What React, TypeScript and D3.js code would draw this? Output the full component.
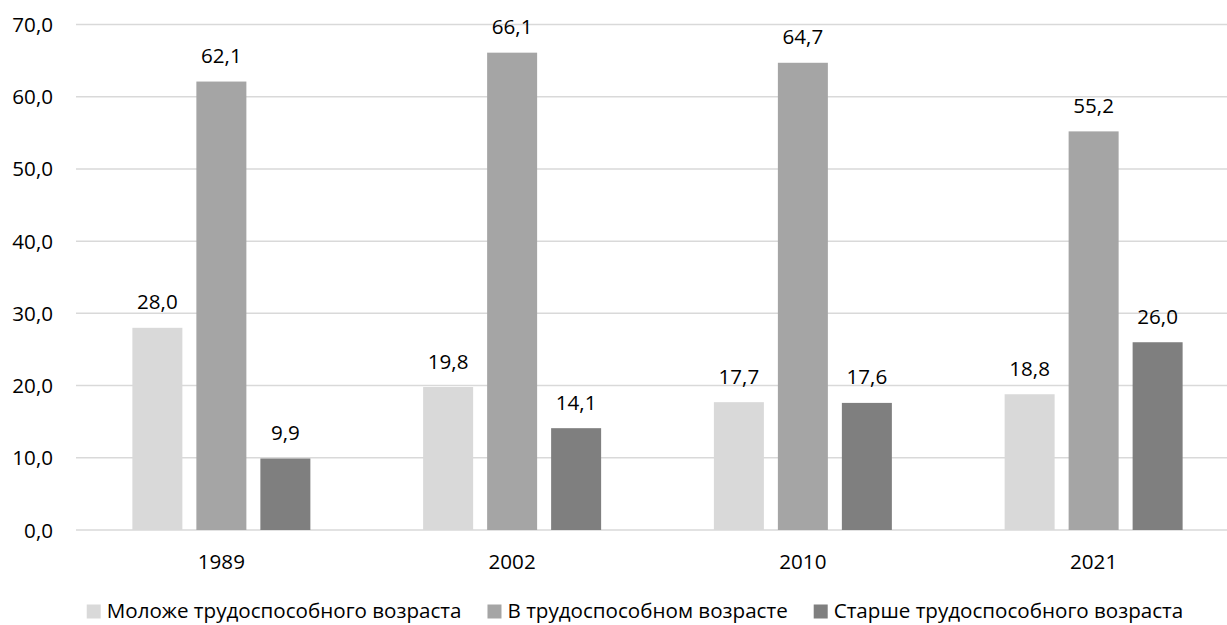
import React, { useEffect, useRef } from 'react';
import * as d3 from 'd3';

// census years and age groups (share of population, %)
const years = ['1989', '2002', '2010', '2021'];
const seriesNames = [
  'Моложе трудоспособного возраста',
  'В трудоспособном возрасте',
  'Старше трудоспособного возраста',
];
const youngerValues = [28.0, 19.8, 17.7, 18.8];
const workingValues = [62.1, 66.1, 64.7, 55.2];
const olderValues = [9.9, 14.1, 17.6, 26.0];
const yTicks = [0, 10, 20, 30, 40, 50, 60, 70];
const seriesColors = ['#d9d9d9', '#a5a5a5', '#7f7f7f'];

const FONT = "'Open Sans', 'Noto Sans', sans-serif";
const FONT_SIZE = '20.6px';

const App: React.FC = () => {
  const svgRef = useRef<SVGSVGElement>(null);

  useEffect(() => {
    document.body.style.margin = '0';
    if (!svgRef.current) return;

    const width = 1227;
    const seriesValues = [youngerValues, workingValues, olderValues];
    const fmt = (v: number) => d3.format('.1f')(v).replace('.', ',');

    const svg = d3.select(svgRef.current);
    svg.selectAll('*').remove();

    const y = d3.scaleLinear().domain([0, 70]).range([530, 24.5]);

    const x0 = d3.scaleBand().domain(years).range([76, 1239]).paddingInner(0).paddingOuter(0);

    const x1 = d3
      .scaleBand()
      .domain(seriesNames)
      .range([0, x0.bandwidth()])
      .paddingInner(0.21875)
      .paddingOuter(0.881);

    // gridlines
    svg
      .append('g')
      .selectAll('line')
      .data(yTicks)
      .enter()
      .append('line')
      .attr('x1', 76)
      .attr('x2', width)
      .attr('y1', (d) => y(d))
      .attr('y2', (d) => y(d))
      .attr('stroke', '#d9d9d9')
      .attr('stroke-width', 1.5);

    // y tick labels
    svg
      .append('g')
      .selectAll('text')
      .data(yTicks)
      .enter()
      .append('text')
      .attr('x', 53)
      .attr('y', (d) => y(d) + 7.5)
      .attr('text-anchor', 'end')
      .style('font-family', FONT)
      .style('font-size', FONT_SIZE)
      .attr('fill', '#000')
      .text((d) => fmt(d));

    // bars + value labels
    seriesNames.forEach((name, si) => {
      const g = svg.append('g');
      const vals = seriesValues[si];
      g.selectAll('rect')
        .data(years)
        .enter()
        .append('rect')
        .attr('x', (d) => (x0(d) || 0) + (x1(name) || 0))
        .attr('y', (d, i) => y(vals[i]))
        .attr('width', x1.bandwidth())
        .attr('height', (d, i) => y(0) - y(vals[i]))
        .attr('fill', seriesColors[si]);

      g.selectAll('text')
        .data(years)
        .enter()
        .append('text')
        .attr('x', (d) => (x0(d) || 0) + (x1(name) || 0) + x1.bandwidth() / 2)
        .attr('y', (d, i) => y(vals[i]) - 18.5)
        .attr('text-anchor', 'middle')
        .style('font-family', FONT)
        .style('font-size', FONT_SIZE)
        .attr('fill', '#000')
        .text((d, i) => fmt(vals[i]));
    });

    // category labels
    svg
      .append('g')
      .selectAll('text')
      .data(years)
      .enter()
      .append('text')
      .attr('x', (d) => (x0(d) || 0) + x0.bandwidth() / 2)
      .attr('y', 569)
      .attr('text-anchor', 'middle')
      .style('font-family', FONT)
      .style('font-size', FONT_SIZE)
      .attr('fill', '#000')
      .text((d) => d);

    // legend, laid out from measured text widths and centred
    const legend = svg.append('g');
    const items = seriesNames.map((name, i) => {
      const item = legend.append('g');
      item
        .append('rect')
        .attr('width', 14)
        .attr('height', 14)
        .attr('y', 604.5)
        .attr('fill', seriesColors[i]);
      const t = item
        .append('text')
        .attr('x', 20)
        .attr('y', 618)
        .style('font-family', FONT)
        .style('font-size', FONT_SIZE)
        .attr('fill', '#000')
        .text(name);
      const w = (t.node() as SVGTextElement).getComputedTextLength();
      return { item, w: 20 + w };
    });
    const gap = 26;
    const total = d3.sum(items, (d) => d.w) + gap * (items.length - 1);
    let cx = 635 - total / 2;
    items.forEach((d) => {
      d.item.attr('transform', `translate(${cx},0)`);
      cx += d.w + gap;
    });
  }, []);

  return <svg ref={svgRef} width={1227} height={625} style={{ display: 'block', background: '#fff' }} />;
};

export default App;
